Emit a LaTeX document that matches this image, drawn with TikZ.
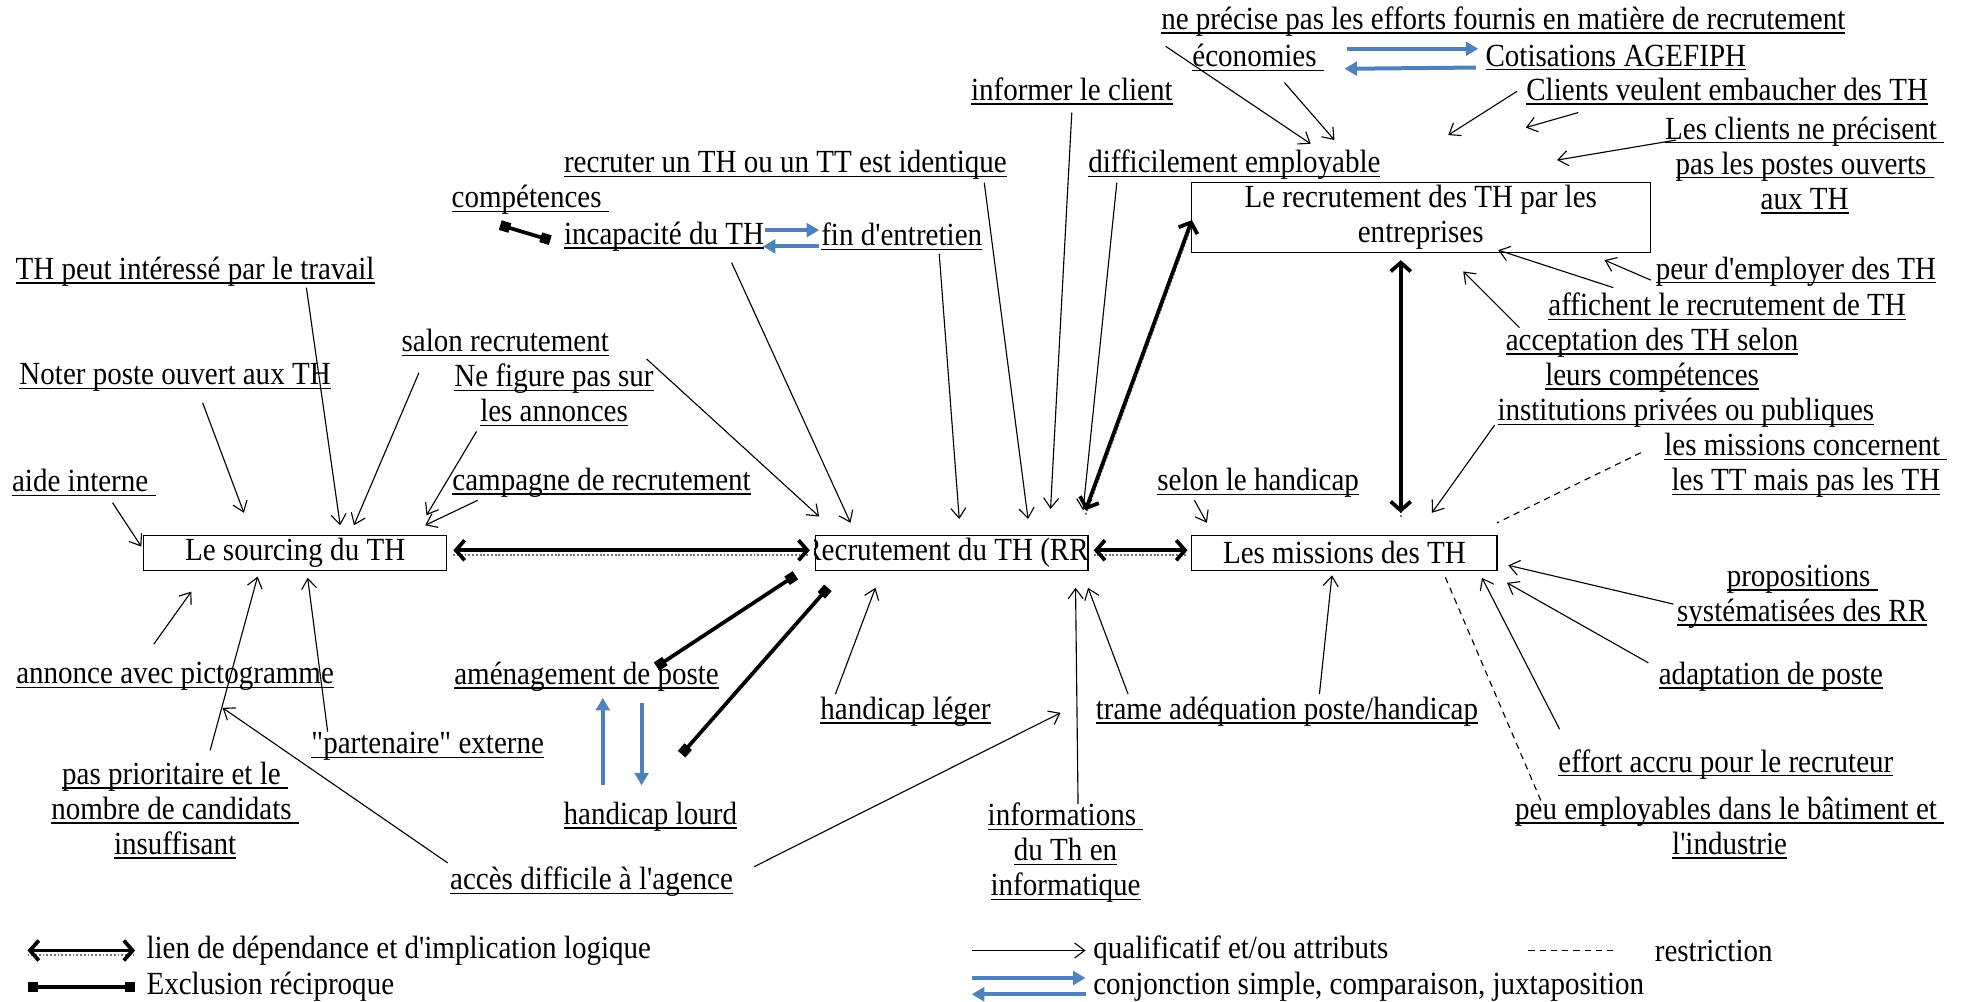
\documentclass[tikz,border=0pt]{standalone}
\usepackage{fontspec}
\setmainfont{Liberation Serif}[FakeStretch=0.9, Ligatures=TeXOff]
\usetikzlibrary{arrows.meta}
\definecolor{conjblue}{RGB}{79,129,189}
\newcommand\myfs{\fontsize{25.8}{28}\selectfont}
\newcommand\uln[1]{\leavevmode\setbox0=\hbox{#1}\rlap{\rule[-3.5pt]{\wd0}{1.1pt}}\box0}
\tikzset{
 lbl/.style={inner sep=0pt, align=center, font=\myfs},
 box/.style={draw, line width=1pt, inner sep=0pt, align=center, font=\myfs},
 q/.style={line width=0.9pt, -{Straight Barb[length=8pt,width=12pt]}},
 rs/.style={line width=0.9pt, dash pattern=on 5pt off 4pt},
 dep/.style={line width=3pt, {Straight Barb[length=7pt,width=16pt]}-{Straight Barb[length=7pt,width=16pt]},
   preaction={draw=black!55, line width=1.6pt, dash pattern=on 1.5pt off 1.5pt, -, transform canvas={shift={(0pt,-3.5pt)}}}},
 excl/.style={line width=3pt, {Square[length=8pt,width=8pt]}-{Square[length=8pt,width=8pt]}},
 conj/.style={line width=3.2pt, draw=conjblue, -{Triangle[length=10pt,width=11pt]}},
}
\begin{document}
\begin{tikzpicture}[x=1pt,y=-1pt]
\fill[white] (0,0) rectangle (1568,801);
\useasboundingbox (0,0) rectangle (1568,801);

% labels
\node[lbl] (ne) at (1202,17) {\uln{ne précise pas les efforts fournis en matière de recrutement}};
\node[lbl] (eco) at (1006,46) {\uln{économies\ }};
\node[lbl] (cotis) at (1292,46) {\uln{Cotisations AGEFIPH}};
\node[lbl] (informer) at (857,73) {\uln{informer le client}};
\node[lbl] (clients) at (1381,73) {\uln{Clients veulent embaucher des TH}};
\node[lbl] (lesclients) at (1443,132) {\uln{Les clients ne précisent\ }\\\uln{pas les postes ouverts\ }\\\uln{aux TH}};
\node[lbl] (recruter) at (628,132) {\uln{recruter un TH ou un TT est identique}};
\node[lbl] (diffic) at (987,132) {\uln{difficilement employable}};
\node[box, minimum width=367, minimum height=56] (entr) at (1136,174) {Le recrutement des TH par les\\entreprises};
\node[lbl] (comp) at (424,160) {\uln{compétences\ }};
\node[lbl] (incap) at (531,189) {\uln{incapacité du TH}};
\node[lbl] (fin) at (721,189) {\uln{fin d'entretien}};
\node[lbl] (thpeut) at (156,217) {\uln{TH peut intéressé par le travail}};
\node[lbl] (peur) at (1436,217) {\uln{peur d'employer des TH}};
\node[lbl] (affichent) at (1381,245) {\uln{affichent le recrutement de TH}};
\node[lbl] (salon) at (404,274) {\uln{salon recrutement}};
\node[lbl] (accept) at (1321,288) {\uln{acceptation des TH selon}\\\uln{leurs compétences}};
\node[lbl] (noter) at (140,302) {\uln{Noter poste ouvert aux TH}};
\node[lbl] (nefigure) at (443,316) {\uln{Ne figure pas sur}\\\uln{les annonces}};
\node[lbl] (instit) at (1348,330) {\uln{institutions privées ou publiques}};
\node[lbl] (missionsc) at (1444,372) {\uln{les missions concernent\ }\\\uln{les TT mais pas les TH}};
\node[lbl] (aide) at (67,386) {\uln{aide interne\ }};
\node[lbl] (campagne) at (481,386) {\uln{campagne de recrutement}};
\node[lbl] (selon) at (1006,386) {\uln{selon le handicap}};
\node[box, minimum width=242, minimum height=28] (sourcing) at (236,442) {Le sourcing du TH};
\node[box, minimum width=218, minimum height=28] (rr) at (761,442) {};
\begin{scope}
\clip (rr.south west) rectangle (rr.north east);
\node[lbl] (rrtext) at ([shift={(-5,0)}]rr.center) {Recrutement du TH (RR};
\end{scope}
\node[box, minimum width=244, minimum height=28] (missions) at (1075,442) {Les missions des TH};
\node[lbl] (propos) at (1441,477) {\uln{propositions\ }\\\uln{systématisées des RR}};
\node[lbl] (annonce) at (140,541) {\uln{annonce avec pictogramme}};
\node[lbl] (amenag) at (469,541) {\uln{aménagement de poste}};
\node[lbl] (adapt) at (1416,541) {\uln{adaptation de poste}};
\node[lbl] (leger) at (724,569) {\uln{handicap léger}};
\node[lbl] (trame) at (1029,569) {\uln{trame adéquation poste/handicap}};
\node[lbl] (partenaire) at (342,597) {\uln{"partenaire" externe}};
\node[lbl] (effort) at (1380,611) {\uln{effort accru pour le recruteur}};
\node[lbl] (pasprio) at (140,648) {\uln{pas prioritaire et le\ }\\\uln{nombre de candidats\ }\\\uln{insuffisant}};
\node[lbl] (peuemp) at (1383,662) {\uln{peu employables dans le bâtiment et\ }\\\uln{l'industrie}};
\node[lbl] (lourd) at (520,653) {\uln{handicap lourd}};
\node[lbl] (infos) at (852,682) {\uln{informations\ }\\\uln{du Th en}\\\uln{informatique}};
\node[lbl] (acces) at (473,705) {\uln{accès difficile à l'agence}};

% into sourcing
\draw[q] ([shift={(23,16)}]aide.center) -- ([shift={(-123,-5)}]sourcing.center);
\draw[q] ([shift={(22,20)}]noter.center) -- ([shift={(-41,-32)}]sourcing.center);
\draw[q] ([shift={(89,13)}]thpeut.center) -- ([shift={(36,-22)}]sourcing.center);
\draw[q] ([shift={(-69,24)}]salon.center) -- ([shift={(47,-22)}]sourcing.center);
\draw[q] ([shift={(-62,29)}]nefigure.center) -- ([shift={(105,-30)}]sourcing.center);
\draw[q] ([shift={(-99,14)}]campagne.center) -- ([shift={(104,-22)}]sourcing.center);
\draw[q] ([shift={(-17,-26)}]annonce.center) -- ([shift={(-83,31)}]sourcing.center);
\draw[q] ([shift={(28,-48)}]pasprio.center) -- ([shift={(-30,19)}]sourcing.center);
\draw[q] ([shift={(-80,-12)}]partenaire.center) -- ([shift={(10,20)}]sourcing.center);
\coordinate (f1) at (178,566);
\coordinate (f2) at (848,570);
\draw[q] ([shift={(-115,-15)}]acces.center) -- (f1);
\draw[q] ([shift={(130,-12)}]acces.center) -- (f2);

% thick dependencies
\draw[dep] ([shift={(5,-2)}]sourcing.east) -- ([shift={(-4,-2)}]rr.west);
\draw[dep] ([shift={(4,-2)}]rr.east) -- ([shift={(-3,-2)}]missions.west);
\draw[dep] ([shift={(107,-34)}]rr.center) -- ([shift={(-183,2)}]entr.center);
\draw[dep] ([shift={(45,-32)}]missions.center) -- ([shift={(-16,34)}]entr.center);

% into rr
\draw[q] ([shift={(113,13)}]salon.center) -- ([shift={(-106,-29)}]rr.center);
\draw[q] ([shift={(54,21)}]incap.center) -- ([shift={(-81,-24)}]rr.center);
\draw[q] ([shift={(30,14)}]fin.center) -- ([shift={(6,-27)}]rr.center);
\draw[q] ([shift={(159,14)}]recruter.center) -- ([shift={(61,-27)}]rr.center);
\draw[q] ([shift={(0,17)}]informer.center) -- ([shift={(79,-35)}]rr.center);
\draw[q] ([shift={(-94,14)}]diffic.center) -- ([shift={(105,-34)}]rr.center);
\draw[q] ([shift={(-56,-14)}]leger.center) -- ([shift={(-61,28)}]rr.center);
\draw[q] ([shift={(10,-39)}]infos.center) -- ([shift={(99,28)}]rr.center);
\draw[q] ([shift={(-127,-14)}]trame.center) -- ([shift={(109,28)}]rr.center);
\draw[excl] ([shift={(56,-8)}]amenag.center) -- ([shift={(-125,18)}]rr.center);
\draw[excl] ([shift={(25,-50)}]lourd.center) -- ([shift={(-99,28)}]rr.center);
\draw[conj] ([shift={(-38,-25)}]lourd.center) -- ([shift={(13,17)}]amenag.center);
\draw[conj] ([shift={(44,21)}]amenag.center) -- ([shift={(-7,-25)}]lourd.center);

% into missions
\draw[q] ([shift={(-51,14)}]selon.center) -- ([shift={(-110,-24)}]missions.center);
\draw[q] ([shift={(-153,10)}]instit.center) -- ([shift={(70,-32)}]missions.center);
\draw[rs] ([shift={(-132,-10)}]missionsc.center) -- ([shift={(122,-24)}]missions.center);
\draw[q] ([shift={(-103,6)}]propos.center) -- ([shift={(131,10)}]missions.center);
\draw[q] ([shift={(-98,-11)}]adapt.center) -- ([shift={(130,24)}]missions.center);
\draw[q] ([shift={(-133,-28)}]effort.center) -- ([shift={(110,20)}]missions.center);
\draw[rs] ([shift={(-151,-22)}]peuemp.center) -- ([shift={(80,18)}]missions.center);
\draw[q] ([shift={(26,-14)}]trame.center) -- ([shift={(-10,18)}]missions.center);

% into entreprises
\draw[q] ([shift={(-270,20)}]ne.center) -- ([shift={(-88,-59)}]entr.center);
\draw[q] ([shift={(21,20)}]eco.center) -- ([shift={(-69,-62)}]entr.center);
\draw[q] ([shift={(-79,27)}]cotis.center) -- ([shift={(22,-66)}]entr.center);
\draw[q] ([shift={(-119,17)}]clients.center) -- ([shift={(84,-72)}]entr.center);
\draw[q] ([shift={(-103,-20)}]lesclients.center) -- ([shift={(109,-46)}]entr.center);
\draw[q] ([shift={(-116,7)}]peur.center) -- ([shift={(147,34)}]entr.center);
\draw[q] ([shift={(-91,-15)}]affichent.center) -- ([shift={(62,26)}]entr.center);
\draw[q] ([shift={(-106,-26)}]accept.center) -- ([shift={(34,43)}]entr.center);

% conjunctions / exclusion at top
\draw[conj] ([shift={(71,-7)}]eco.center) -- ([shift={(-110,-7)}]cotis.center);
\draw[conj] ([shift={(-112,8)}]cotis.center) -- ([shift={(69,9)}]eco.center);
\draw[conj] ([shift={(81,-5)}]incap.center) -- ([shift={(-66,-5)}]fin.center);
\draw[conj] ([shift={(-66,8)}]fin.center) -- ([shift={(79,8)}]incap.center);
\draw[excl] ([shift={(-24,20)}]comp.center) -- ([shift={(-91,3)}]incap.center);

% legend
\node[lbl, anchor=west] (l1) at (117,760) {lien de dépendance et d'implication logique};
\node[lbl, anchor=west] (l2) at (117,789) {Exclusion réciproque};
\node[lbl, anchor=west] (l3) at (874,760) {qualificatif et/ou attributs};
\node[lbl, anchor=west] (l4) at (1323,760) {restriction};
\node[lbl, anchor=west] (l5) at (874,789) {conjonction simple, comparaison, juxtaposition};
\draw[dep] ([shift={(-95,0)}]l1.west) -- ([shift={(-9,0)}]l1.west);
\draw[excl] ([shift={(-95,0)}]l2.west) -- ([shift={(-9,0)}]l2.west);
\draw[q] ([shift={(-97,0)}]l3.west) -- ([shift={(-6,0)}]l3.west);
\draw[rs] ([shift={(-101,0)}]l4.west) -- ([shift={(-33,0)}]l4.west);
\draw[conj] ([shift={(-97,-7)}]l5.west) -- ([shift={(-6,-7)}]l5.west);
\draw[conj] ([shift={(-6,6)}]l5.west) -- ([shift={(-97,6)}]l5.west);
\end{tikzpicture}
\end{document}
